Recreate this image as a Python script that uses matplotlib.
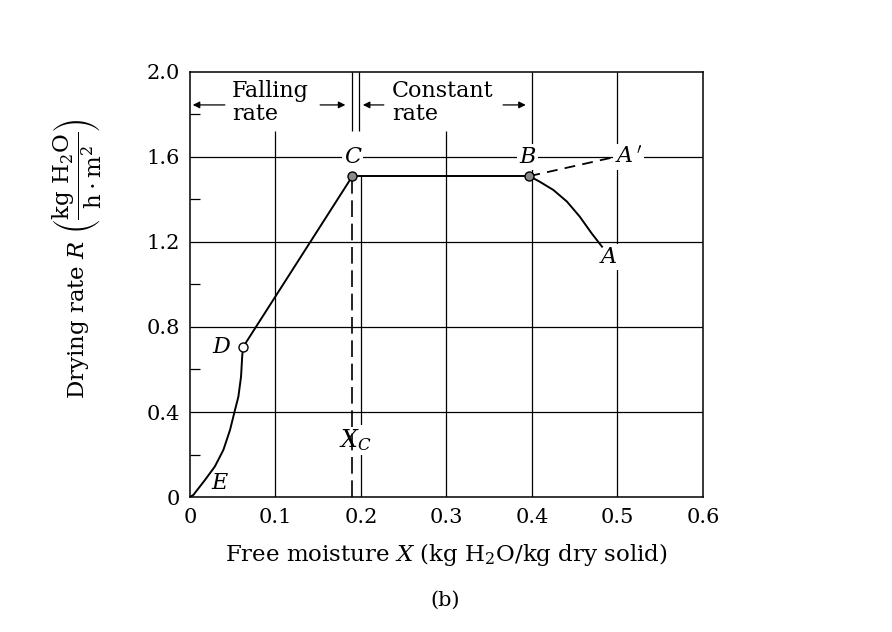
import matplotlib
matplotlib.use('Agg')
import matplotlib.pyplot as plt

plt.rcParams['font.family'] = ['DejaVu Serif']
plt.rcParams['mathtext.fontset'] = 'dejavuserif'

# Falling-rate curve E -> D
fall_x = [0.0, 0.004, 0.0175, 0.029, 0.039, 0.0468, 0.0526, 0.0566, 0.0597, 0.061, 0.062]
fall_r = [0.0, 0.01, 0.08, 0.143, 0.221, 0.315, 0.409, 0.472, 0.566, 0.657, 0.705]
# straight falling section D -> C
dc_x = [0.062, 0.19]
dc_r = [0.705, 1.51]
# constant rate C -> B
cb_x = [0.19, 0.397]
cb_r = [1.51, 1.51]
# warm-up B -> A (solid) and B -> A' (dashed)
ba_x = [0.397, 0.409, 0.425, 0.441, 0.456, 0.47, 0.482]
ba_r = [1.51, 1.484, 1.445, 1.39, 1.319, 1.24, 1.178]
bap_x = [0.397, 0.497]
bap_r = [1.51, 1.60]
# marked points
pt_names = ['C', 'B', 'D']
pt_x = [0.19, 0.397, 0.062]
pt_r = [1.51, 1.51, 0.705]
x_c = 0.19

x_ticks = [0, 0.1, 0.2, 0.3, 0.4, 0.5, 0.6]
x_ticklabels = ['0', '0.1', '0.2', '0.3', '0.4', '0.5', '0.6']
y_ticks = [0, 0.4, 0.8, 1.2, 1.6, 2.0]
y_ticklabels = ['0', '0.4', '0.8', '1.2', '1.6', '2.0']

fig = plt.figure(figsize=(8.92, 6.32), dpi=100)
ax = fig.add_axes([0.213, 0.2136, 0.575, 0.6725])
ax.set_xlim(0, 0.6)
ax.set_ylim(0, 2.0)

# grid, drawn by hand because parts are left open for the labels
gk = dict(color='black', lw=0.9, zorder=1)
for y in [0.4, 0.8, 1.2, 1.6]:
    ax.hlines(y, 0, 0.6, **gk)
ax.vlines(0.1, 0, 1.72, **gk)
ax.vlines(0.2, 0, 1.51, **gk)
ax.vlines(0.198, 1.72, 2.0, **gk)
ax.vlines(0.3, 0, 1.72, **gk)
ax.vlines(0.4, 0, 2.0, **gk)
ax.vlines(0.5, 0, 2.0, **gk)
ax.vlines(x_c, 1.72, 2.0, **gk)

for s in ax.spines.values():
    s.set_linewidth(1.1)

# curves
lk = dict(color='black', lw=1.4, zorder=4)
ax.plot(fall_x, fall_r, **lk)
ax.plot(dc_x, dc_r, **lk)
ax.plot(cb_x, cb_r, **lk)
ax.plot(ba_x, ba_r, **lk)
ax.plot(bap_x, bap_r, color='black', lw=1.3, ls=(0, (6, 4)), zorder=4)
ax.plot([x_c, x_c], [0, 1.51], color='black', lw=1.2, ls=(0, (10, 4)), zorder=4)

for name, px, pr in zip(pt_names, pt_x, pt_r):
    face = 'white' if name == 'D' else '#8a8a8a'
    ax.plot(px, pr, 'o', ms=6.5, mfc=face, mec='black', mew=1.0, zorder=5)

# point labels
wb = dict(facecolor='white', edgecolor='none', pad=1.5)
lab = dict(fontsize=16, style='italic', ha='center', va='center', zorder=3, bbox=wb)
ax.text(0.19, 1.6, 'C', **lab)
ax.text(0.395, 1.6, 'B', **lab)
ax.text(0.513, 1.6, r"$A\,'$", fontsize=16, ha='center', va='center', zorder=3, bbox=wb)
ax.text(0.49, 1.13, 'A', **lab)
ax.text(0.037, 0.705, 'D', **lab)
ax.text(0.035, 0.065, 'E', **lab)
ax.text(0.193, 0.27, r'$X_C$', fontsize=17, ha='center', va='center', zorder=3, bbox=wb)

# region annotations at the top
tk = dict(fontsize=16, ha='left', va='center', linespacing=1.05)
ax.text(0.049, 1.855, 'Falling\nrate', **tk)
ax.text(0.236, 1.855, 'Constant\nrate', **tk)
ak = dict(arrowstyle='-|>', color='black', lw=0.9, mutation_scale=10)
ax.annotate('', xy=(0.0, 1.845), xytext=(0.044, 1.845), arrowprops=ak)
ax.annotate('', xy=(0.185, 1.845), xytext=(0.149, 1.845), arrowprops=ak)
ax.annotate('', xy=(0.199, 1.845), xytext=(0.23, 1.845), arrowprops=ak)
ax.annotate('', xy=(0.396, 1.845), xytext=(0.363, 1.845), arrowprops=ak)

# ticks
ax.set_xticks(x_ticks)
ax.set_xticklabels(x_ticklabels)
ax.set_yticks(y_ticks)
ax.set_yticklabels(y_ticklabels)
ax.tick_params(axis='both', length=0, labelsize=15)
ax.tick_params(axis='x', pad=8)
ax.tick_params(axis='y', pad=7)
ax.set_yticks([0.2, 0.6, 1.0, 1.4, 1.8], minor=True)
ax.tick_params(axis='y', which='minor', direction='in', length=7, width=0.9)

ax.set_xlabel(r'Free moisture $X$ (kg H$_2$O/kg dry solid)', fontsize=16.5, labelpad=10)
ax.set_ylabel(r'Drying rate $R$ $\left(\dfrac{\mathrm{kg\ H_2O}}{\mathrm{h\cdot m^2}}\right)$',
              fontsize=16.5)
ax.yaxis.set_label_coords(-0.168, 0.56)

fig.text(0.499, 0.05, '(b)', fontsize=15, ha='center', va='center')

fig.savefig('out.png', dpi=100)
